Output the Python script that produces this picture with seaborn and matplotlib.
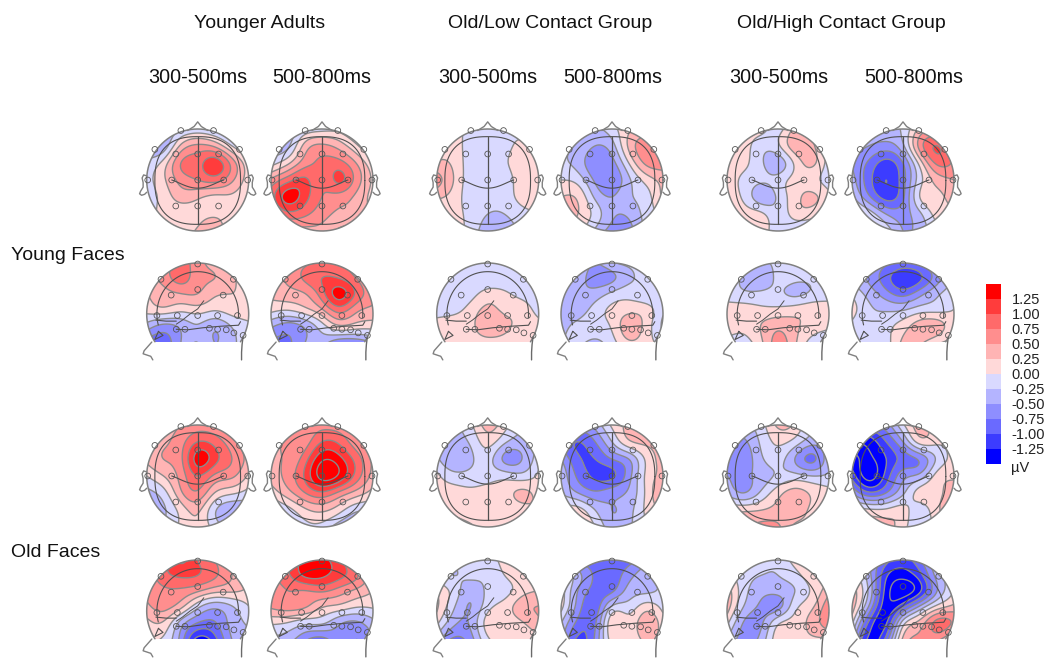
import numpy as np
import pandas as pd
import matplotlib
matplotlib.use("Agg")
import matplotlib.pyplot as plt
from matplotlib.colors import ListedColormap
from matplotlib.patches import Circle, Rectangle
import seaborn as sns

W, H = 1049, 662

# ---- values (µV), rows run from top to bottom, columns left to right ----
top_x = [-1, -.67, -.33, 0, .33, .67, 1]
top_y = [1, .67, .33, 0, -.33, -.67, -1]
side_y = [1, .7, .4, .1, -.2, -.56]

ya_young_early_top = [[-.3,-.4,-.3,-.2,-.3,-.4,-.3],[-.4,-.4,.3,.55,.45,.0,-.3],[-.2,.1,.75,.9,1.15,.65,.05],[-.1,.2,.6,.75,.85,.55,.1],[-.15,.1,.35,.3,.2,.2,.0],[-.1,.05,.1,.15,.2,.1,-.1],[-.1,-.1,.1,.3,.5,0,-.1]]
ya_young_late_top = [[-.4,-.4,-.2,-.1,-.1,-.3,-.3],[-.4,-.3,.35,.55,.4,.05,-.3],[-.1,.2,.65,.8,.85,.5,.05],[.55,.9,1.05,.8,1.05,.65,.2],[.85,1.35,1.1,.75,.65,.45,.15],[.6,.9,.8,.6,.45,.4,.15],[.3,.4,.4,.4,.2,.1,.1]]
low_young_early_top = [[.1,.1,-.1,-.2,-.1,-.1,-.2],[.15,.15,-.15,-.2,-.1,.05,-.2],[.3,.2,-.15,-.2,-.05,.15,.1],[.6,.25,-.15,-.2,-.15,.15,.15],[.3,.15,-.15,-.2,-.15,.1,.15],[.1,.1,-.1,-.25,-.25,-.1,.0],[.1,.1,-.1,-.4,-.4,-.2,-.1]]
low_young_late_top = [[-.2,-.25,-.3,-.1,.2,.3,.2],[-.2,-.3,-.5,-.35,.3,.65,.5],[-.2,-.35,-.7,-.6,.0,.55,.6],[.0,-.1,-.55,-.7,-.3,.1,.35],[.25,.2,-.3,-.5,-.3,-.1,.3],[.4,.25,-.1,-.45,-.45,-.15,.1],[.3,.1,-.3,-.6,-.6,-.2,.0]]
high_young_early_top = [[.1,.1,.1,-.1,.3,.2,-.1],[.1,.1,-.15,-.05,.4,.3,-.1],[.1,.05,-.2,-.4,.05,.3,-.15],[.1,-.05,-.2,-.15,.1,.1,-.15],[.1,-.05,-.4,-.2,.15,.3,.05],[.1,.1,.05,-.15,.1,.1,-.1],[.1,.1,.1,-.15,-.3,-.3,-.1]]
high_young_late_top = [[-.3,-.3,-.3,-.2,.3,.4,.3],[-.4,-.5,-.6,-.3,.6,1.0,.6],[-.5,-.8,-1.1,-.75,.1,.8,.7],[-.4,-.9,-1.25,-.85,-.1,.35,.5],[-.2,-.7,-1.1,-.8,-.0,.2,.35],[.1,-.1,-.5,-.6,-.3,.1,.2],[.2,.15,-.1,-.5,-.4,-.1,.1]]
ya_old_early_top = [[.25,.35,.5,.6,.55,.4,.25],[.3,.45,.65,1.0,.9,.6,.3],[.3,.5,.7,1.35,1.1,.75,.4],[.0,.25,.6,1.0,.7,.55,.2],[-.35,-.1,.45,.7,.25,.05,-.1],[-.6,-.3,.1,.3,-.2,-.45,-.4],[-.4,-.2,.05,.2,-.1,-.3,-.3]]
ya_old_late_top = [[.35,.5,.6,.65,.6,.5,.35],[.4,.55,.65,1.0,.95,.6,.4],[.45,.55,.9,1.45,1.35,.9,.45],[.35,.6,1.05,1.6,1.45,.9,.4],[.1,.4,.75,.95,.7,.4,.15],[-.3,-.1,.2,.3,.1,-.2,-.2],[-.4,-.3,-.1,-.1,-.4,-.55,-.4]]
low_old_early_top = [[-.3,-.3,-.05,.35,.1,-.2,-.2],[-.3,-.35,-.2,.1,-.2,-.35,-.2],[-.2,-.45,-.3,-.15,-.55,-.5,-.1],[.05,-.15,-.15,-.1,-.1,-.15,.05],[.1,.1,.05,.1,.15,.3,.15],[.3,.2,.1,.1,.1,.15,.25],[.35,.4,.3,.1,.1,.1,.1]]
low_old_late_top = [[-.6,-.6,-.4,.05,.3,.3,.3],[-.8,-1.0,-.75,-.25,.2,.3,.3],[-.5,-.95,-1.0,-.75,-.5,.05,.35],[-.3,-.8,-1.05,-1.05,-.6,.05,.35],[-.25,-.5,-.7,-.6,-.45,.05,.55],[.05,.1,-.25,-.5,-.35,.05,.3],[.1,.2,.0,-.4,-.3,-.05,.1]]
high_old_early_top = [[-.4,-.3,-.1,.3,.2,-.2,-.2],[-.6,-.55,-.2,.05,-.1,-.4,-.3],[-.6,-.65,-.3,-.15,-.5,-.8,-.3],[-.5,-.55,-.4,-.2,-.15,-.25,-.2],[-.3,-.5,-.2,.15,.35,.2,.1],[.2,.2,.25,.35,.4,.2,.2],[.4,.45,.6,.55,.2,.2,.1]]
high_old_late_top = [[-1.0,-.8,-.6,-.05,.35,.1,.1],[-1.5,-1.4,-1.0,-.5,.1,.05,.1],[-1.4,-1.55,-1.25,-.9,-.7,-.2,.1],[-1.1,-1.6,-1.15,-.6,-.4,.1,.2],[-.5,-.95,-.75,-.3,.1,.2,.4],[.1,.05,.05,.1,-.15,.2,.35],[.4,.45,.35,.1,-.2,.1,.2]]

ya_young_early_side = [[.4,.6,.85,.6,.4,.2,.1],[.4,.6,.85,.6,.5,.3,.1],[.25,.4,.5,.5,.3,.25,.2],[.1,.2,.1,.15,.05,.15,.2],[-.3,-.5,-.4,-.25,-.4,-.2,-.05],[-.9,-.9,-.5,-.25,-.5,-.3,-.2]]
ya_young_late_side = [[.4,.55,.7,.8,.8,.6,.35],[.4,.55,.8,1.0,1.0,.75,.4],[.3,.4,.5,.9,1.35,.95,.55],[.1,.05,.2,.5,.9,.6,.45],[-.4,-.55,-.4,-.05,.3,.2,.15],[-.8,-.8,-.5,-.4,-.7,-.7,-.5]]
low_young_early_side = [[-.2,-.2,-.2,-.2,-.2,-.2,-.2],[-.2,-.2,-.2,-.2,-.2,-.2,-.2],[-.2,-.2,-.1,.1,.05,-.1,-.2],[-.15,-.1,.1,.3,.2,.15,-.15],[.1,.15,.2,.4,.3,.2,.1],[.1,.15,.15,.15,.15,.15,.1]]
low_young_late_side = [[-.2,-.3,-.5,-.3,-.2,-.2,-.15],[-.3,-.4,-.6,-.55,-.3,-.2,-.15],[-.35,-.45,-.4,-.2,-.1,-.2,-.2],[-.4,-.4,-.15,.05,.15,.1,-.2],[-.35,-.2,-.1,.05,.4,.15,-.3],[-.25,-.2,-.3,-.1,.2,.1,-.1]]
high_young_early_side = [[-.1,-.25,-.3,-.2,-.2,-.15,-.1],[-.1,-.3,-.4,-.2,-.2,-.2,-.1],[-.1,-.2,-.2,-.2,-.3,-.2,-.1],[.1,.1,.05,.05,.1,.15,.1],[.15,.1,.25,.4,.3,.15,.05],[-.1,-.1,.2,.6,.3,-.1,-.15]]
high_young_late_side = [[-.3,-.5,-.7,-.8,-.7,-.45,-.2],[-.3,-.55,-.9,-1.2,-1.05,-.6,-.2],[-.05,-.35,-.65,-.85,-.6,-.3,-.1],[.1,-.2,-.3,-.3,-.15,-.1,.0],[-.05,-.2,-.1,.1,.35,.35,.05],[-.2,-.2,-.1,.3,.3,.05,-.1]]
ya_old_early_side = [[.5,.9,1.3,1.0,.75,.4,.2],[.55,.9,1.05,1.0,.8,.5,.25],[.55,.7,.7,.55,.35,.3,.2],[.45,.6,.35,-.15,-.4,-.25,.0],[.2,.25,-.3,-.7,-.75,-.4,-.2],[.05,-.05,-.6,-1.35,-1.1,-.5,-.3]]
ya_old_late_side = [[.6,1.0,1.3,1.3,1.1,.6,.3],[.7,.95,1.3,1.3,1.1,.8,.35],[.6,.75,.75,.8,.65,.45,.25],[.55,.65,.55,.3,.2,.05,.05],[.1,.05,-.1,-.15,-.4,-.5,-.3],[-.3,-.4,-.7,-.85,-.6,-.75,-.5]]
low_old_early_side = [[-.15,-.2,-.2,-.15,.1,.15,.1],[-.1,-.25,-.2,-.2,.0,.15,.15],[.2,-.1,-.4,-.2,-.1,.15,.25],[.3,-.2,-.5,-.1,.1,.4,.5],[.1,-.4,-.45,.1,.15,.25,.45],[-.4,-.8,-.6,-.05,.1,.1,.15]]
low_old_late_side = [[-.3,-.8,-.9,-.9,-.85,-.6,-.3],[.1,-.4,-.8,-.9,-.6,-.35,-.2],[.15,-.5,-.85,-.8,-.4,-.3,-.2],[.1,-.6,-.9,-.25,-.15,.1,-.1],[-.2,-.8,-.8,.15,.1,.4,.1],[-.4,-1.05,-.7,.1,.1,.3,.1]]
high_old_early_side = [[-.2,-.2,-.2,-.2,.1,.2,.1],[.1,-.15,-.25,-.25,-.1,.15,.15],[.4,-.15,-.4,-.4,-.25,.05,.4],[.4,-.25,-.55,-.6,-.1,.2,.7],[.1,-.5,-.55,-.1,.1,.35,.7],[-.3,-.6,-.4,.15,.2,.2,.2]]
high_old_late_side = [[-.3,-.5,-.9,-1.1,-.8,-.3,-.1],[.2,-.4,-1.2,-1.4,-1.1,-.4,-.1],[.4,-.3,-1.35,-1.65,-1.3,-.5,.0],[.4,-.5,-1.4,-1.1,-.5,.05,.3],[.1,-1.0,-1.3,-.2,.3,.8,.7],[-.4,-1.3,-.9,.3,.55,.55,.1]]

# ---- labels, scale ----
group_labels = ["Younger Adults", "Old/Low Contact Group", "Old/High Contact Group"]
group_label_x = [260, 550, 841]
window_labels = ["300-500ms", "500-800ms"]
row_labels = ["Young Faces", "Old Faces"]
scale_labels = ["1.25", "1.00", "0.75", "0.50", "0.25", "0.00", "-0.25", "-0.50", "-0.75", "-1.00", "-1.25"]
band_colors = ["#ff0000", "#ff3c3c", "#ff6a6a", "#ff8e8e", "#ffb4b4", "#ffd9d9",
               "#d9d9ff", "#b4b4ff", "#8e8eff", "#6a6aff", "#3c3cff", "#0000ff"]
line_levels = [-1.75, -1.5, -1.25, -1, -.75, -.5, -.25, 0, .25, .5, .75, 1, 1.25, 1.5, 1.75]
fill_levels = [-3, -1.25, -1, -.75, -.5, -.25, 0, .25, .5, .75, 1, 1.25, 3]

# ---- electrodes on the two head views ----
top_ex = [-.33, .31, -.84, .82, -.43, 0, .41, -.98, .98, -.51, 0, .51, -.43, 0, .41]
top_ey = [.97, .97, .6, .6, .51, .51, .51, 0, 0, 0, 0, 0, -.51, -.51, -.51]
side_ex = [0, -.72, .7, -.52, 0, .5, -.8, -.4, 0, .39, .78, -.42, -.25, .23, .39, .56, .71, .89]
side_ey = [.98, .68, .68, .37, .48, .37, -.03, -.03, -.03, -.03, -.03, -.3, -.3, -.28, -.3, -.31, -.37, -.42]

# ---- positions of the maps, in pixels of the figure ----
col_cx = [197.7, 322, 487.7, 612, 778, 903]
col_lx = [148, 272, 438, 563, 729, 864]
row_cy = [180, 314, 476, 611]
R_PX = 51.0

sns.set_style("white")
plt.rcParams["font.family"] = ["Liberation Sans", "DejaVu Sans"]
fig = plt.figure(figsize=(W / 100, H / 100), dpi=100)

OUT = "#808080"
INK = "#505050"


def panel_ax(cx, cy):
    half = 1.5 * R_PX
    ax = fig.add_axes([(cx - half) / W, 1 - (cy + half) / H, 2 * half / W, 2 * half / H])
    ax.set_xlim(-1.5, 1.5)
    ax.set_ylim(-1.5, 1.5)
    ax.axis("off")
    return ax


def spline(x, table, xnew):
    """Natural cubic spline through each column of table."""
    x = np.asarray(x, float)
    n = len(x)
    h = np.diff(x)
    A = np.zeros((n, n))
    A[0, 0] = A[-1, -1] = 1
    for i in range(1, n - 1):
        A[i, i - 1:i + 2] = [h[i - 1], 2 * (h[i - 1] + h[i]), h[i]]
    d = np.diff(table, axis=0) / h[:, None]
    rhs = np.zeros_like(table)
    rhs[1:-1] = 6 * (d[1:] - d[:-1])
    m = np.linalg.solve(A, rhs)
    k = np.clip(np.searchsorted(x, xnew) - 1, 0, n - 2)
    t1 = (x[k + 1] - xnew)[:, None]
    t0 = (xnew - x[k])[:, None]
    hk = h[k][:, None]
    return (m[k] * t1**3 + m[k + 1] * t0**3) / (6 * hk) + \
           (table[k] / hk - m[k] * hk / 6) * t1 + (table[k + 1] / hk - m[k + 1] * hk / 6) * t0


def field(ax, xs, ys, values, clip):
    z = np.array(values, float)[::-1]
    yy = np.array(ys, float)[::-1]
    fy = np.linspace(yy[0], 1, 240)
    fx = np.linspace(-1, 1, 240)
    fz = spline(yy, z, fy)
    fz = spline(xs, fz.T, fx).T
    ax.add_patch(clip)
    cf = ax.contourf(fx, fy, fz, levels=fill_levels, colors=band_colors[::-1], antialiased=True)
    cl = ax.contour(fx, fy, fz, levels=line_levels, colors="#8a8a8a", linewidths=1.0, linestyles="solid")
    cf.set_clip_path(clip)
    cl.set_clip_path(clip)


def electrodes(ax, ex, ey):
    sns.scatterplot(x=ex, y=ey, ax=ax, s=17, marker="o", facecolors="none",
                    edgecolor="#555555", linewidth=0.6, legend=False, clip_on=False, zorder=6)


def top_map(ax, values):
    clip = Circle((0, 0), 1.0, fc="none", ec="none")
    field(ax, top_x, top_y, values, clip)
    t = np.linspace(0, 2 * np.pi, 200)
    ax.plot(np.cos(t), np.sin(t), color=OUT, lw=1.1, zorder=5)
    sq_x = .84 * np.sign(np.cos(t)) * np.abs(np.cos(t)) ** .8
    sq_y = .86 * np.sign(np.sin(t)) * np.abs(np.sin(t)) ** .8 - .01
    ax.plot(sq_x, sq_y, color=INK, lw=.8, zorder=5)
    ax.plot([-.2, -.07, 0, .07, .2], [.97, 1.05, 1.14, 1.05, .97], color=OUT, lw=1.0, zorder=5)
    ear_x = np.array([1.0, 1.06, 1.09, 1.07, 1.07, 1.12, 1.14, 1.1, 1.04, 1.0])
    ear_y = np.array([.08, .1, .04, -.05, -.14, -.22, -.27, -.3, -.28, -.24])
    ax.plot(ear_x, ear_y, color=OUT, lw=1.0, zorder=5)
    ax.plot(-ear_x, ear_y, color=OUT, lw=1.0, zorder=5)
    ax.plot([0, 0], [.85, -.87], color=INK, lw=.9, zorder=5)
    xc = np.linspace(-.51, .51, 40)
    ax.plot(xc, -.16 * np.cos(xc / .51 * np.pi / 2) ** 1.2, color=INK, lw=.8, zorder=5)
    electrodes(ax, top_ex, top_ey)


def side_map(ax, values):
    circ = Circle((0, 0), 1.0, fc="none", ec="none")
    field(ax, top_x, side_y, values, circ)
    ax.add_patch(Rectangle((-1.1, -1.1), 2.2, .56, fc="white", ec="none", zorder=4))
    t = np.linspace(np.radians(-33), np.radians(213), 160)
    ax.plot(np.cos(t), np.sin(t), color=OUT, lw=1.1, zorder=5)
    ax.plot([-.9, -1.05, -1.07, -.92, -.88], [-.55, -.72, -.78, -.83, -.9],
            color=OUT, lw=1.0, zorder=5)
    ax.plot([.89, .87, .86, .86], [-.44, -.6, -.75, -.9], color="#6a6a6a", lw=1.0, zorder=5)
    arc_t = np.linspace(np.radians(-5), np.radians(195), 80)
    ax.plot(.8 * np.cos(arc_t), .83 * np.sin(arc_t), color=INK, lw=.8, zorder=5)
    ax.plot([-.42, -.2, .1, .45, .8, .84], [-.3, -.31, -.27, -.24, -.22, -.15], color=INK, lw=.8, zorder=5)
    ax.plot([-.42, -.3, -.15, .0, .12], [-.2, -.12, .0, .1, .26], color=INK, lw=.7, zorder=5)
    ax.plot([-.82, -.62, -.42], [-.12, -.14, -.14], color=INK, lw=.8, zorder=5)
    ax.plot([-.77, -.84, -.68, -.77], [-.34, -.5, -.42, -.34], color=INK, lw=.8, zorder=6)
    electrodes(ax, side_ex, side_ey)


panels = [
    [ya_young_early_top, ya_young_late_top, low_young_early_top, low_young_late_top, high_young_early_top, high_young_late_top],
    [ya_young_early_side, ya_young_late_side, low_young_early_side, low_young_late_side, high_young_early_side, high_young_late_side],
    [ya_old_early_top, ya_old_late_top, low_old_early_top, low_old_late_top, high_old_early_top, high_old_late_top],
    [ya_old_early_side, ya_old_late_side, low_old_early_side, low_old_late_side, high_old_early_side, high_old_late_side],
]
for r, row in enumerate(panels):
    for c, values in enumerate(row):
        ax = panel_ax(col_cx[c], row_cy[r])
        (top_map if r % 2 == 0 else side_map)(ax, values)

# colour scale
cax = fig.add_axes([986 / W, 1 - 464 / H, 15 / W, 180 / H])
sns.heatmap(pd.DataFrame({"band": np.arange(12)}), ax=cax, cmap=ListedColormap(band_colors), cbar=False,
            xticklabels=False, yticklabels=False, vmin=-.5, vmax=11.5)
cax.set_xlabel("")
cax.set_ylabel("")
for i, lab in enumerate(scale_labels):
    fig.text(1011.5 / W, 1 - (300 + 15 * i) / H, lab, fontsize=10.5, va="center", ha="left", color="#222222")
fig.text(1011.5 / W, 1 - 468 / H, "µV", fontsize=10.5, va="center", ha="left", color="#222222")

# headings
for lab, x in zip(group_labels, group_label_x):
    fig.text(x / W, 1 - 23.5 / H, lab, fontsize=14, ha="center", va="center", color="#111111")
for i, x in enumerate(col_lx):
    fig.text(x / W, 1 - 77.5 / H, window_labels[i % 2], fontsize=14.2, ha="left", va="center", color="#111111")
for lab, y in zip(row_labels, [255.5, 552.5]):
    fig.text(11 / W, 1 - y / H, lab, fontsize=14, ha="left", va="center", color="#111111")

fig.savefig("out.png", dpi=100)
